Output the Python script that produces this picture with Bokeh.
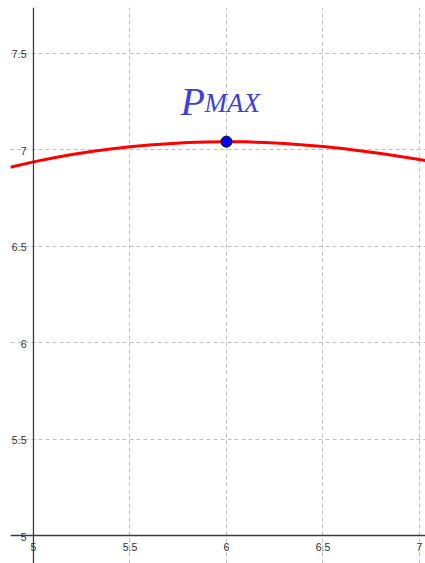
from bokeh.plotting import figure
from bokeh.models import Span, FixedTicker
from bokeh.core.properties import value
from bokeh.embed import file_html
from bokeh.resources import INLINE

# Curve samples (x, f(x))
curve_x = [4.88, 5.0, 5.1, 5.2, 5.3, 5.4, 5.5, 5.6, 5.7, 5.8, 5.9, 6.0,
           6.1, 6.2, 6.3, 6.4, 6.5, 6.6, 6.7, 6.8, 6.9, 7.0, 7.03]
curve_y = [6.908, 6.936, 6.956, 6.974, 6.990, 7.003, 7.014, 7.023, 7.030, 7.036, 7.039, 7.041,
           7.040, 7.036, 7.031, 7.024, 7.016, 7.005, 6.993, 6.979, 6.964, 6.948, 6.943]

# Maximum point
max_x = [6.0]
max_y = [7.041]
max_name = ["P"]
max_sub = ["MAX"]

# Axis ticks
x_ticks = [5, 5.5, 6, 6.5, 7]
x_tick_labels = ["5", "5.5", "6", "6.5", "7"]
y_ticks = [5, 5.5, 6, 6.5, 7, 7.5]
y_tick_labels = ["5", "5.5", "6", "6.5", "7", "7.5"]
axis_origin = 5

p = figure(width=425, height=563, x_range=(4.881, 7.0313), y_range=(4.855, 7.736),
           output_backend="svg", toolbar_location=None,
           min_border_left=10, min_border_top=7, min_border_right=0, min_border_bottom=0)
p.outline_line_color = None
p.background_fill_color = "white"
p.xaxis.visible = False
p.yaxis.visible = False

# dashed grid
p.xgrid.ticker = FixedTicker(ticks=x_ticks)
p.ygrid.ticker = FixedTicker(ticks=y_ticks)
for g in (p.xgrid, p.ygrid):
    g.grid_line_color = "#c0c0c0"
    g.grid_line_dash = "4 3"
    g.grid_line_width = 1

# axis lines crossing at (5, 5)
p.add_layout(Span(location=axis_origin, dimension="height", line_color="#3c3c3c", line_width=1.3))
p.add_layout(Span(location=axis_origin, dimension="width", line_color="#3c3c3c", line_width=1.3))

# tick labels
tick_font = value("Liberation Sans")
p.text(x=x_ticks, y=[axis_origin] * len(x_ticks), text=x_tick_labels,
       text_font=tick_font, text_font_size="10.5px", text_color="#333333",
       text_align="center", text_baseline="middle", y_offset=11)
p.text(x=[axis_origin] * len(y_ticks), y=y_ticks, text=y_tick_labels,
       text_font=tick_font, text_font_size="10.5px", text_color="#333333",
       text_align="right", text_baseline="middle", x_offset=-7, y_offset=1)

# function curve
p.line(curve_x, curve_y, line_color="#ff0000", line_width=3)

# maximum point and its label
p.scatter(max_x, max_y, size=11, fill_color="#0000ff", line_color="#000000", line_width=1)
label_font = value("Liberation Serif")
p.text(x=max_x, y=max_y, text=max_name, text_font=label_font, text_font_style="italic",
       text_font_size="40px", text_color="#4040d8", text_align="left",
       text_baseline="alphabetic", x_offset=-46, y_offset=-40)
p.text(x=max_x, y=max_y, text=max_sub, text_font=label_font, text_font_style="italic",
       text_font_size="27px", text_color="#4040d8", text_align="left",
       text_baseline="alphabetic", x_offset=-22, y_offset=-39)

open("out.html", "w").write(file_html(p, INLINE))
